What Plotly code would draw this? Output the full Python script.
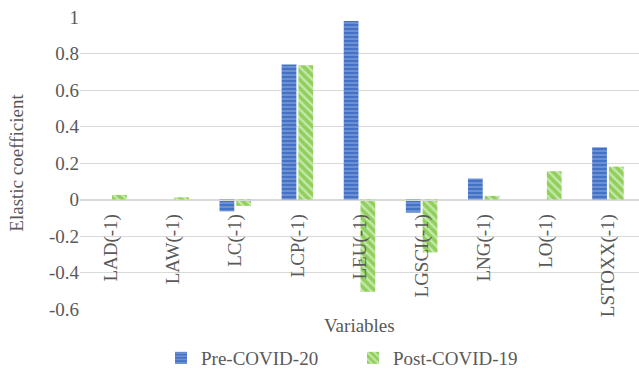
import plotly.graph_objects as go

categories = ["LAD(-1)", "LAW(-1)", "LC(-1)", "LCP(-1)", "LEU(-1)", "LGSCI(-1)", "LNG(-1)", "LO(-1)", "LSTOXX(-1)"]
pre_covid = [0.0, 0.0, -0.065, 0.74, 0.978, -0.072, 0.115, 0.0, 0.286]
post_covid = [0.025, 0.012, -0.035, 0.735, -0.505, -0.29, 0.02, 0.155, 0.18]
y_ticks = [1, 0.8, 0.6, 0.4, 0.2, 0, -0.2, -0.4, -0.6]
y_tick_text = ["1", "0.8", "0.6", "0.4", "0.2", "0", "-0.2", "-0.4", "-0.6"]

FONT = "'Liberation Serif', 'Times New Roman', 'DejaVu Serif', serif"
TXT = "#595959"
GRID = "#d9d9d9"
y_min, y_max = -0.6, 1.0

fig = go.Figure()
fig.add_trace(go.Bar(
    x=categories, y=pre_covid, name="Pre-COVID-20",
    marker=dict(color="#4472C4", line=dict(width=0),
                pattern=dict(shape="-", bgcolor="#4472C4", fgcolor="#c9d6f0",
                             size=4, solidity=0.3)),
))
fig.add_trace(go.Bar(
    x=categories, y=post_covid, name="Post-COVID-19",
    marker=dict(color="#92D050", line=dict(width=0),
                pattern=dict(shape="\\", bgcolor="#8fcf5a", fgcolor="#ffffff",
                             size=6, solidity=0.4)),
))

fig.update_layout(
    width=639, height=370,
    margin=dict(l=80, r=0, t=17, b=61, autoexpand=False),
    paper_bgcolor="white", plot_bgcolor="white",
    font=dict(family=FONT, size=19, color=TXT),
    barmode="group", bargap=0.46, bargroupgap=0.12,
    showlegend=True,
    legend=dict(orientation="h", x=(161 - 80) / 559, xanchor="left",
                yref="container", y=1 - 358 / 370, yanchor="middle",
                font=dict(family=FONT, size=19, color=TXT), itemwidth=30,
                entrywidth=147, traceorder="normal"),
    xaxis=dict(anchor="free", position=(0 - y_min) / (y_max - y_min), automargin=False,
               showline=True, linecolor=GRID, linewidth=1, ticks="",
               tickangle=-90, showgrid=False, ticklabelstandoff=6,
               tickfont=dict(family=FONT, size=19, color=TXT)),
    yaxis=dict(range=[y_min, y_max], tickvals=y_ticks, ticktext=y_tick_text, automargin=False,
               showgrid=True, gridcolor=GRID, gridwidth=1, zeroline=True,
               zerolinecolor=GRID, zerolinewidth=1, showline=False, ticks="",
               tickfont=dict(family=FONT, size=19, color=TXT),
               title=dict(text="Elastic coefficient", standoff=20,
                          font=dict(family=FONT, size=19, color=TXT))),
)
fig.add_annotation(text="Variables", xref="paper", yref="paper", x=0.5, y=-0.012,
                   yanchor="top", showarrow=False,
                   font=dict(family=FONT, size=19, color=TXT))

fig.write_html("out.html")
